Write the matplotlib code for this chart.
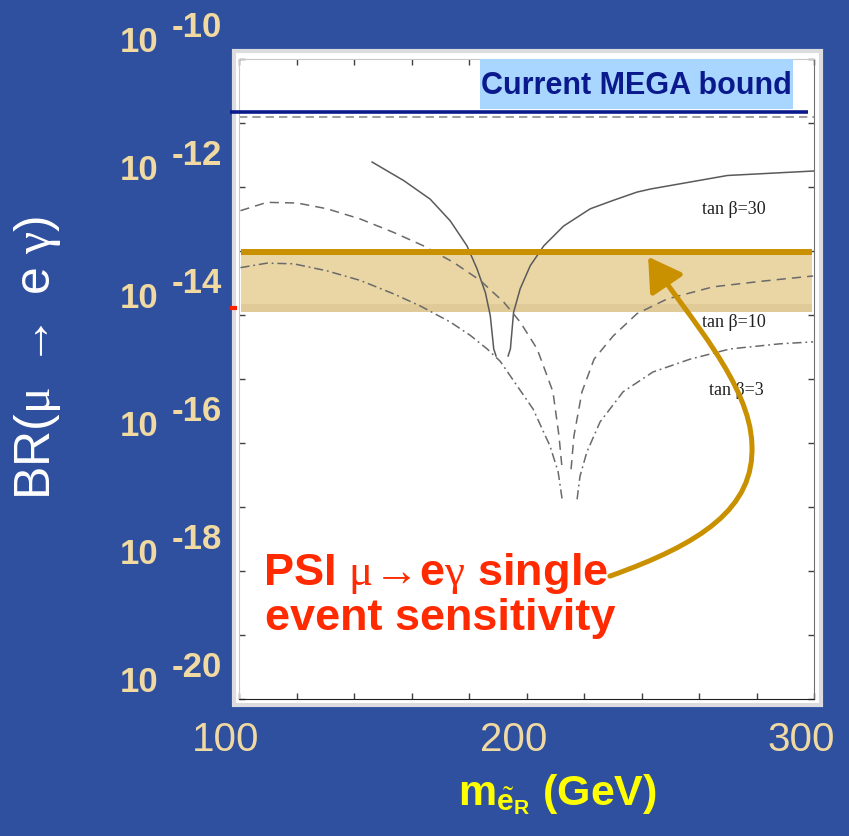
import matplotlib
matplotlib.use('Agg')
import numpy as np
from matplotlib import pyplot as plt
from matplotlib import patches, transforms
from matplotlib.path import Path
from matplotlib.ticker import MultipleLocator, NullLocator

# curves: x in GeV, y as log10(BR)
t30_left_x = [146.3, 157.3, 166.5, 173.5, 179.3, 182.8, 185.7, 187.4, 188.6, 189.4]
t30_left_y = [-11.61, -11.90, -12.19, -12.53, -12.92, -13.28, -13.65, -14.01, -14.53, -14.64]
t30_right_x = [193.6, 194.4, 195.5, 197.8, 201.3, 206.0, 212.9, 222.2, 230.1, 238.4,
               243.3, 269.9, 299.9]
t30_right_y = [-14.64, -14.53, -13.96, -13.59, -13.23, -12.92, -12.61, -12.34, -12.21,
               -12.08, -12.03, -11.82, -11.75]

t10_left_x = [100.5, 109.7, 120.2, 130.6, 142.2, 153.8, 164.2, 174.7, 183.9, 192.1,
              197.8, 203.7, 209.2, 211.3, 212.4]
t10_left_y = [-12.37, -12.24, -12.25, -12.34, -12.50, -12.71, -12.92, -13.18, -13.46,
              -13.80, -14.11, -14.53, -15.20, -15.89, -16.41]
t10_right_x = [215.5, 216.5, 219.3, 223.5, 230.1, 238.4, 248.9, 264.9, 282.3, 299.7]
t10_right_y = [-16.41, -15.89, -15.20, -14.69, -14.33, -13.98, -13.75, -13.56, -13.47, -13.39]

t3_left_x = [100.5, 109.7, 119.0, 130.6, 142.2, 153.8, 163.1, 173.5, 180.5, 186.3,
             190.8, 202.3, 208.2, 211.0, 212.4]
t3_left_y = [-13.26, -13.19, -13.20, -13.31, -13.46, -13.67, -13.86, -14.11, -14.32,
             -14.53, -14.72, -15.47, -16.05, -16.45, -16.88]
t3_right_x = [217.6, 218.6, 221.0, 225.6, 233.6, 244.0, 256.9, 270.8, 288.2, 299.7]
t3_right_y = [-16.88, -16.52, -16.14, -15.67, -15.20, -14.89, -14.69, -14.53, -14.45, -14.42]

curve_labels = ['tan \u03b2=30', 'tan \u03b2=10', 'tan \u03b2=3']
curve_label_x = [261.0, 261.0, 263.5]
curve_label_y = [-12.41, -14.17, -15.23]

mega_bound = 1.48e-11        # current MEGA bound (navy line)
exp_bound = 1.24e-11         # dashed bound of the original plot
psi_hi = 9.6e-14             # PSI sensitivity band
psi_lo = 1.12e-14
psi_stripe = 1.48e-14
band_x = [100.7, 299.3]
mega_box_x = [183.8, 292.7]
mega_box_y = [10 ** -10.78, 1e-10]

# arrow (bezier control points, GeV / log10 BR)
arrow_x = [229.0, 260.3, 279.5, 278.4, 277.7, 256.9, 242.3]
arrow_y = [-18.08, -17.58, -17.03, -16.02, -15.08, -14.06, -13.09]

ytick_exps = [-10, -12, -14, -16, -18, -20]
xtick_vals = [100, 200, 300]

BLUE = '#2F4F9F'
TAN = '#F0DAA2'
ORANGE = '#C99000'
NAVY = '#0A1A8C'

plt.rcParams['mathtext.fontset'] = 'custom'
plt.rcParams['mathtext.rm'] = 'Liberation Serif'
plt.rcParams['mathtext.it'] = 'Liberation Serif:italic'
plt.rcParams['mathtext.bf'] = 'Liberation Sans:bold'
plt.rcParams['mathtext.sf'] = 'Liberation Sans'

W, H = 849, 837
fig = plt.figure(figsize=(W / 100, H / 100), dpi=100, facecolor=BLUE)

def px(x, y):
    return x / W, 1 - y / H

# white picture behind the plot
bg = patches.Rectangle(px(234, 706), 587 / W, 654 / H, transform=fig.transFigure,
                       facecolor='white', edgecolor='#DCDCE0', linewidth=3, zorder=0)
fig.add_artist(bg)

ax = fig.add_axes([239 / W, 137 / H, 575 / W, 640 / H])
ax.set_facecolor('white')
ax.set_yscale('log')
ax.set_xlim(100, 300)
ax.set_ylim(1e-20, 1e-10)

gray = '#5A5A5A'
ax.plot(t30_left_x, 10 ** np.array(t30_left_y), color=gray, lw=1.1)
ax.plot(t30_right_x, 10 ** np.array(t30_right_y), color=gray, lw=1.1)
for xs, ys in [(t10_left_x, t10_left_y), (t10_right_x, t10_right_y)]:
    ax.plot(xs, 10 ** np.array(ys), color='#6A6A6A', lw=1.1, dashes=(6, 4))
for xs, ys in [(t3_left_x, t3_left_y), (t3_right_x, t3_right_y)]:
    ax.plot(xs, 10 ** np.array(ys), color='#6A6A6A', lw=1.1, dashes=(6, 2.5, 1.2, 2.5))

for lab, lx, ly in zip(curve_labels, curve_label_x, curve_label_y):
    ax.text(lx, 10 ** ly, lab, family='Liberation Serif', fontsize=13,
            color='#202020', va='baseline', ha='left')

# PSI band
ax.fill_between(band_x, psi_lo, psi_hi, color='#EAD6A4', lw=0, zorder=1.5)
ax.fill_between(band_x, psi_lo, psi_stripe, color='#E0CB98', lw=0, zorder=1.6)
ax.plot(band_x, [psi_hi, psi_hi], color=ORANGE, lw=4.3, solid_capstyle='butt', zorder=3)

# bounds
ax.axhline(exp_bound, color='#8C8C8C', lw=1.2, dashes=(5, 3))
ax.plot([96.9, 297.9], [mega_bound, mega_bound], color=NAVY, lw=2.6,
        solid_capstyle='butt', clip_on=False, zorder=4)
ax.plot([96.9, 99.3], [10 ** -13.89] * 2, color='#FF2200', lw=3,
        solid_capstyle='butt', clip_on=False, zorder=4)
ax.fill_between(mega_box_x, mega_box_y[0], mega_box_y[1], color='#A8D6FF', lw=0,
                zorder=4.5)
ax.text(np.mean(mega_box_x), 10 ** -10.41, 'Current MEGA bound',
        family=['Liberation Sans Narrow', 'Liberation Sans'], fontweight='bold',
        fontsize=22, color=NAVY, ha='center', va='center', zorder=5)

# curved arrow
verts = list(zip(arrow_x, 10 ** np.array(arrow_y)))
codes = [Path.MOVETO] + [Path.CURVE4] * 6
arr = patches.FancyArrowPatch(path=Path(verts, codes),
                              arrowstyle='-|>,head_length=1.0,head_width=0.6',
                              mutation_scale=20, color=ORANGE, lw=3.6,
                              transform=ax.transData, zorder=6, clip_on=False)
ax.add_patch(arr)

# axes cosmetics
ax.set_yticks([10.0 ** e for e in range(-20, -9)])
ax.set_yticklabels([])
ax.yaxis.set_minor_locator(NullLocator())
ax.set_xticks(xtick_vals)
ax.set_xticklabels([str(v) for v in xtick_vals])
ax.xaxis.set_minor_locator(MultipleLocator(20))
ax.tick_params(which='both', direction='in', length=4.5, width=1, color='#404040',
               top=True, right=True)
ax.tick_params(axis='x', which='major', pad=15, labelsize=29, labelcolor=TAN)
for lbl in ax.get_xticklabels():
    lbl.set_family('Liberation Sans')
    lbl.set_transform(lbl.get_transform() +
                      transforms.ScaledTranslation(-0.13, 0, fig.dpi_scale_trans))
for s in ['left', 'top']:
    ax.spines[s].set_color('#C8C8C8')
ax.spines['right'].set_color('#707070')
ax.spines['bottom'].set_color('#202020')

# slide-style y tick labels
tb = transforms.blended_transform_factory(ax.transAxes, ax.transData)
for e in ytick_exps:
    ax.text(-0.207, 10.0 ** e, '10', transform=tb + transforms.ScaledTranslation(
        0, 0.08, fig.dpi_scale_trans), family='Liberation Sans', fontweight='bold',
        fontsize=25, color=TAN, va='baseline', ha='left', clip_on=False)
    ax.text(-0.1165, 10.0 ** e, str(e), transform=tb + transforms.ScaledTranslation(
        0, 0.23, fig.dpi_scale_trans), family='Liberation Sans', fontweight='bold',
        fontsize=25, color=TAN, va='baseline', ha='left', clip_on=False)

# PSI annotation
fig.text(*px(263, 585), r'PSI $\mathrm{\mu}\!\rightarrow\!$e$\mathrm{\gamma}$ single',
         family='Liberation Sans', fontweight='bold', fontsize=32.5, color='#FF2A00',
         va='baseline', ha='left', zorder=7)
fig.text(*px(265, 630), 'event sensitivity', family='Liberation Sans',
         fontweight='bold', fontsize=32.5, color='#FF2A00', va='baseline', ha='left',
         zorder=7)

# axis titles
fig.text(*px(458, 805), r'$\mathbf{m}_{\tilde{\mathbf{e}}_{\mathbf{R}}}$ (GeV)',
         family='Liberation Sans', fontweight='bold', fontsize=31, color='#FFFF00',
         va='baseline', ha='left')
fig.text(*px(38, 358), r'BR($\mathrm{\mu}$ $\rightarrow$ e $\mathrm{\gamma}$)',
         family='Liberation Sans', fontsize=36, color='white', rotation=90,
         va='center', ha='center')

fig.savefig('out.png', dpi=100, facecolor=BLUE)
